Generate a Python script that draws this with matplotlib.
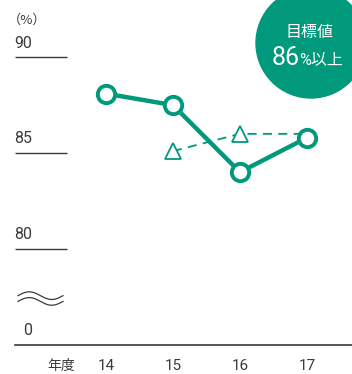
import numpy as np
import matplotlib.pyplot as plt
from matplotlib.patches import Circle

plt.rcParams['font.family'] = ['Roboto', 'Noto Sans CJK JP']

# data
years = [14, 15, 16, 17]
year_labels = ['14', '15', '16', '17']
actual = [88.1, 87.5, 84.0, 85.8]
target_years = [15, 16, 17]
target = [85.1, 86.0, 86.0]
grid_values = [90, 85, 80]

teal = '#00997b'
gray = '#3e3a39'

W, H = 352, 374
fig = plt.figure(figsize=(W / 100, H / 100), dpi=100)
base_px = 345
ax = fig.add_axes([0, (H - base_px) / H, 1, base_px / H])
x0 = 14 - 106 / 67
ax.set_xlim(x0, x0 + W / 67)
ymin = 85 - (base_px - 153) / 19.15
ax.set_ylim(ymin, 85 + 153 / 19.15)
ax.axis('off')


def px2x(p):
    return x0 + p / 67


# short gridlines with labels sitting on top
for v in grid_values:
    ax.plot([px2x(15), px2x(67)], [v, v], color=gray, lw=1.0, solid_capstyle='butt')
    ax.text(px2x(14), v + 0.35, str(v), color=gray, fontsize=11.5, ha='left', va='bottom')
fig.text(8 / W, 1 - 20 / H, '（%）', color=gray, fontsize=9.5,
         family=['Noto Sans CJK JP'], ha='left', va='center')

# baseline and zero label
ax.plot([px2x(15), px2x(352)], [ymin, ymin], color=gray, lw=1.2, clip_on=False)
ax.text(px2x(23), ymin + 0.35, '0', color=gray, fontsize=11.5, ha='left', va='bottom')

# axis break mark
t = np.linspace(0, 1, 60)
bx = px2x(18 + 45 * t)
for off in (0, -0.3):
    ax.plot(bx, 77.55 + off + 0.2 * np.sin(2 * np.pi * t), color=gray, lw=0.9)

# target (dashed) and actual (solid)
ax.plot(target_years, target, color=teal, lw=1.3, ls=(0, (5, 3.5)),
        marker='^', markevery=[0, 1], ms=11, mfc='white', mec=teal, mew=1.3)
ax.plot(years, actual, color=teal, lw=3.2, marker='o', ms=12.5,
        mfc='white', mec=teal, mew=2.8, zorder=5)

# year tick labels
for y, lab in zip(years, year_labels):
    fig.text((106 + (y - 14) * 67) / W, 1 - 366 / H, lab, color=gray,
             fontsize=11, ha='center', va='center')
fig.text(61 / W, 1 - 366 / H, '年度', color=gray, fontsize=10, ha='center', va='center')

# target badge
cx, cy, r = 311, 43, 55
fig.patches.append(Circle((cx / 100, (H - cy) / 100), r / 100, color=teal,
                          transform=fig.dpi_scale_trans, zorder=0))
fig.text(310 / W, 1 - 32 / H, '目標値', color='white', fontsize=11.5, ha='center', va='center')
fig.text(286 / W, 1 - 58 / H, '86', color='white', fontsize=18, ha='center', va='center')
fig.text(321 / W, 1 - 60 / H, '%以上', color='white', fontsize=11.5, ha='center', va='center')

fig.savefig('out.png', dpi=100)
